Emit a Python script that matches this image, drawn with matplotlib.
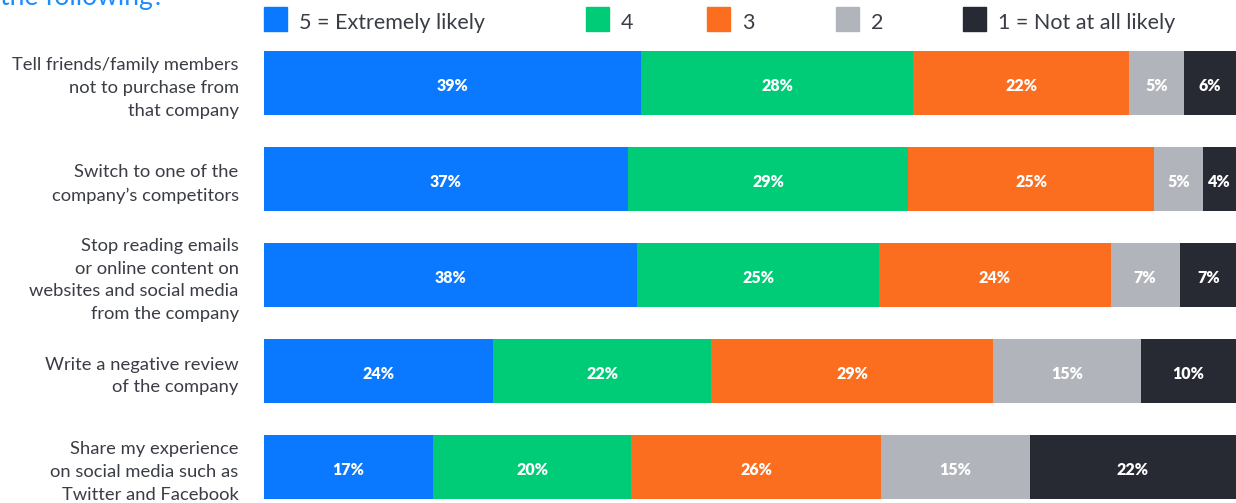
import matplotlib
matplotlib.use("Agg")
import matplotlib.pyplot as plt
import numpy as np

# statements (top to bottom)
statements = [
    "Tell friends/family members\nnot to purchase from\nthat company",
    "Switch to one of the\ncompany\u2019s competitors",
    "Stop reading emails\nor online content on\nwebsites and social media\nfrom the company",
    "Write a negative review\nof the company",
    "Share my experience\non social media such as\nTwitter and Facebook",
]

series_names = ["5 = Extremely likely", "4", "3", "2", "1 = Not at all likely"]

# segment widths (percent)
likely_5 = [38.8, 37.4, 38.4, 23.6, 17.4]
likely_4 = [28.0, 28.9, 24.9, 22.4, 20.4]
likely_3 = [22.2, 25.3, 23.8, 29.0, 25.7]
likely_2 = [5.6, 5.0, 7.1, 15.2, 15.3]
likely_1 = [5.5, 3.4, 5.9, 9.8, 21.2]

# printed labels
labels_5 = ["39%", "37%", "38%", "24%", "17%"]
labels_4 = ["28%", "29%", "25%", "22%", "20%"]
labels_3 = ["22%", "25%", "24%", "29%", "26%"]
labels_2 = ["5%", "5%", "7%", "15%", "15%"]
labels_1 = ["6%", "4%", "7%", "10%", "22%"]

colors = ["#0a78ff", "#00cc78", "#fc6e1f", "#b1b4ba", "#272a33"]

W, H = 1236, 503
fig = plt.figure(figsize=(W / 100, H / 100), dpi=100)
plt.rcParams["font.family"] = ["Lato", "DejaVu Sans"]

top_px = 35.5
ax = fig.add_axes([264 / W, 0, 1 - 264 / W, (H - top_px) / H])

series = [likely_5, likely_4, likely_3, likely_2, likely_1]
labels = [labels_5, labels_4, labels_3, labels_2, labels_1]
y = np.arange(len(statements))
left = np.zeros(len(statements))
for vals, labs, col, name in zip(series, labels, colors, series_names):
    vals = np.array(vals)
    ax.barh(y, vals, left=left, height=0.667, color=col, label=name)
    for yi, (l, v, t) in enumerate(zip(left, vals, labs)):
        ax.text(l + v / 2, yi + 0.03, t, ha="center", va="center", color="white",
                fontsize=11.5, fontweight="heavy")
    left += vals

ax.set_xlim(0, 100)
ax.set_ylim(4 + (H - 467) / 96, -0.5)
ax.axis("off")

# category labels
for yi, s in enumerate(statements):
    ax.text(-2.6, yi + 0.05, s, ha="right", va="center", fontsize=13.2,
            color="#3a3d45", linespacing=1.52)

# legend, drawn by hand across the top
legend_x = [264, 586, 707, 836, 963]
for lx, col, name in zip(legend_x, colors, series_names):
    fig.patches.append(plt.Rectangle((lx / W, 1 - 31 / H), 23 / W, 24 / H,
                                     transform=fig.transFigure, color=col))
    fig.text((lx + 35) / W, 1 - 23 / H, name, ha="left", va="center",
             fontsize=15.5, color="#3a3d45")

# cut-off title
fig.text(0, 1 - 5 / H, "the following?", ha="left", va="baseline",
         fontsize=19, color="#1a8cff")

fig.savefig("out.png", dpi=100)
